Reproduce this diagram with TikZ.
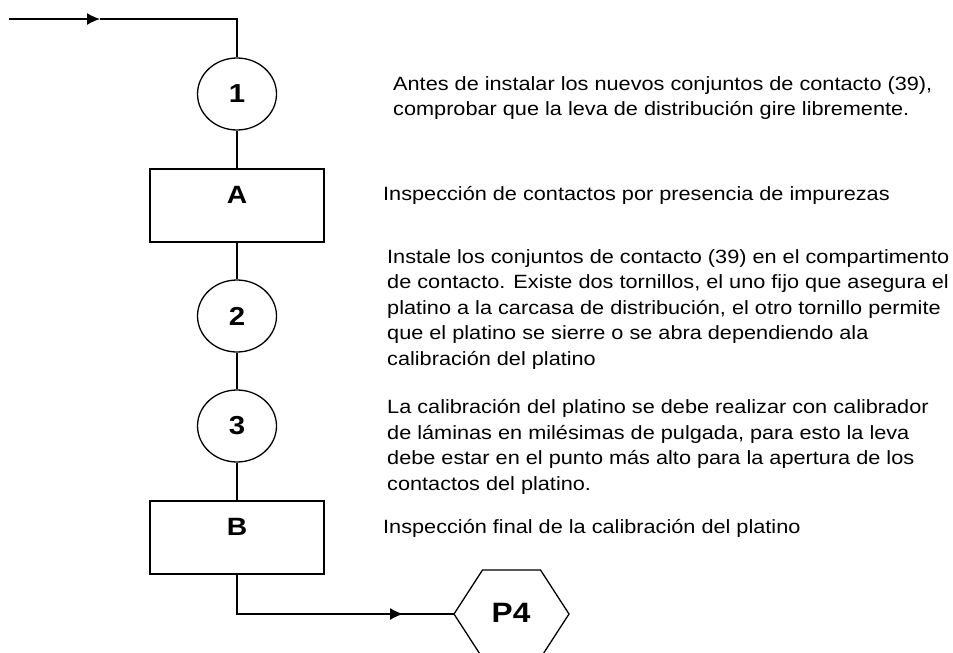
\documentclass[tikz,border=0pt]{standalone}
\usepackage{fontspec}
\setmainfont[FakeStretch=1.13]{Liberation Sans}
\usepackage{tikz}
\usetikzlibrary{arrows.meta,positioning,shapes.geometric}

\tikzset{
  paso/.style={draw,ellipse,line width=1.3pt,minimum width=79pt,minimum height=72pt,inner sep=0pt,
    font=\fontsize{26}{28}\selectfont\bfseries},
  inspec/.style={draw,rectangle,line width=1.3pt,minimum width=174pt,minimum height=73pt,inner sep=0pt,
    text height=13pt,text depth=17pt,font=\fontsize{25}{28}\selectfont\bfseries},
  nota/.style={anchor=base west,align=left,inner sep=0pt,font=\fontsize{19.2}{25.5}\selectfont},
  linea/.style={line width=1.3pt},
}

\begin{document}
\begin{tikzpicture}[x=1pt,y=-1pt,>={Latex[length=13pt,width=12pt]}]
\useasboundingbox (0,0) rectangle (953,653);

% proceso
\coordinate (in) at (9,19);
\coordinate (inmid) at (100,19);
\coordinate (top) at (237,19);
\node[paso] (c1) at (237,94) {1};
\node[inspec] (A) at (237,205.5) {A};
\node[paso] (c2) at (237,316) {2};
\node[paso] (c3) at (237,426) {3};
\node[inspec] (B) at (237,537.5) {B};
\coordinate (bot) at (237,614);
\coordinate (outmid) at (403,614);

% hexagono P4
\node[font=\fontsize{28}{30}\selectfont\bfseries] (p4) at (511,613) {P4};
\coordinate (p4w) at (454,614);
\draw[linea] (p4w) -- ++(28.5,-44) -- ++(58,0) -- ++(28.5,44) -- ++(-28.5,44) -- ++(-58,0) -- cycle;

\draw[linea,->] (in) -- (inmid);
\draw[linea] (inmid) -- (top) -- (c1);
\draw[linea] (c1) -- (A);
\draw[linea] (A) -- (c2);
\draw[linea] (c2) -- (c3);
\draw[linea] (c3) -- (B);
\draw[linea] (B) |- (outmid);
\draw[linea,->] (bot) -- (outmid);
\draw[linea] (outmid) -- (p4w);

% notas (ancladas en la base de la ultima linea)
\node[nota] (n1) at (393,115.5) {Antes de instalar los nuevos conjuntos de contacto (39),\\comprobar que la leva de distribución gire libremente.};
\node[nota] (nA) at (383,200) {Inspección de contactos por presencia de impurezas};
\node[nota] (n2) at (387,365) {Instale los conjuntos de contacto (39) en el compartimento\\de contacto. Existe dos tornillos, el uno fijo que asegura el\\platino a la carcasa de distribución, el otro tornillo permite\\que el platino se sierre o se abra dependiendo ala\\calibración del platino};
\node[nota] (n3) at (387,490) {La calibración del platino se debe realizar con calibrador\\de láminas en milésimas de pulgada, para esto la leva\\debe estar en el punto más alto para la apertura de los\\contactos del platino.};
\node[nota] (nB) at (383,533) {Inspección final de la calibración del platino};
\end{tikzpicture}
\end{document}
